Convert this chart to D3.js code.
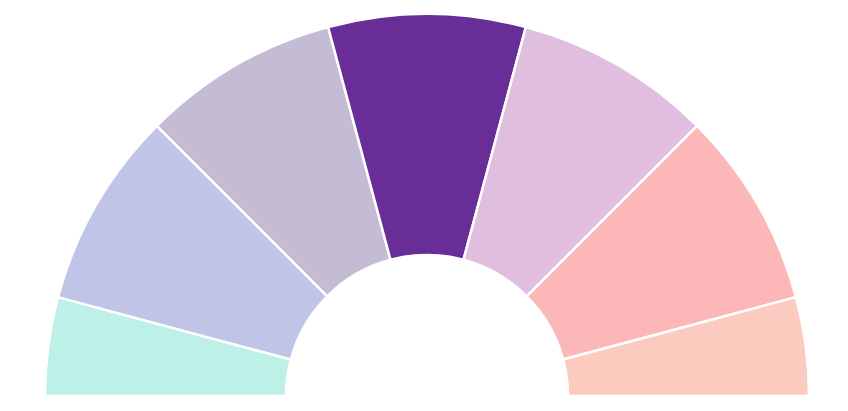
<!DOCTYPE html>
<html>
<head>
<meta charset="utf-8">
<script src="https://cdn.jsdelivr.net/npm/d3@7"></script>
<style>
html,body{margin:0;padding:0;background:#fff;}
svg{display:block;}
</style>
</head>
<body>
<svg id="chart" width="848" height="411"></svg>
<script>
const categories = ["A","B","C","D","E","F","G"];
const values = [15,30,30,30,30,30,15];
const colors = ["#bdf0e7","#c0c4e6","#c4bcd5","#682d96","#e0bee0","#fcb8b8","#fccbc0"];

const svg = d3.select("#chart");
const cx = 427, cy = 396, outerR = 382, innerR = 141;

const pie = d3.pie().sort(null).value(d => d.v)
  .startAngle(-Math.PI/2).endAngle(Math.PI/2);
const arc = d3.arc().innerRadius(innerR).outerRadius(outerR);

const data = categories.map((c,i) => ({c, v: values[i], col: colors[i]}));

svg.append("g").attr("transform", `translate(${cx},${cy})`)
  .selectAll("path").data(pie(data)).join("path")
  .attr("d", arc)
  .attr("fill", d => d.data.col)
  .attr("stroke", "#fff")
  .attr("stroke-width", 2.5);
</script>
</body>
</html>
